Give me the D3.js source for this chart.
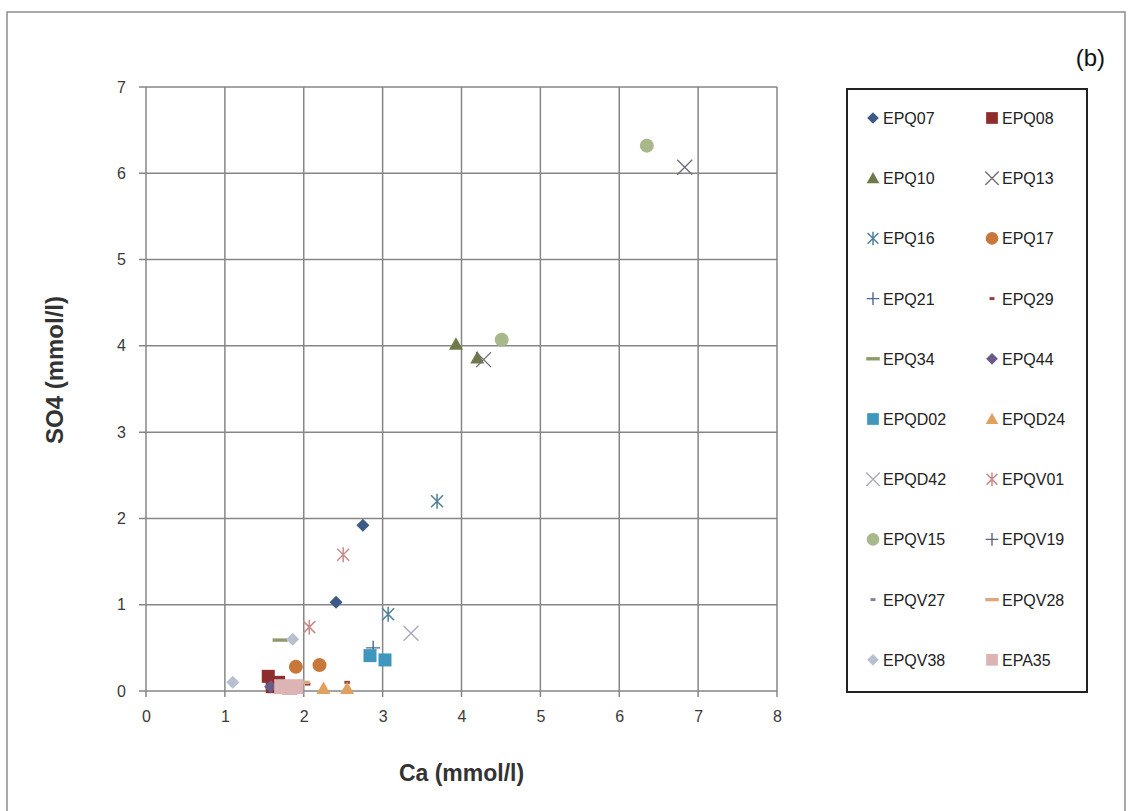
<!DOCTYPE html>
<html><head><meta charset="utf-8">
<script src="https://cdn.jsdelivr.net/npm/d3@7"></script>
<style>body{margin:0;background:#fff}svg{display:block}</style>
</head><body>
<svg id="c" width="1132" height="811"></svg>
<script>
// ---- data ----
const seriesNames = ["EPQ07","EPQ08","EPQ10","EPQ13","EPQ16","EPQ17","EPQ21","EPQ29","EPQ34","EPQ44",
  "EPQD02","EPQD24","EPQD42","EPQV01","EPQV15","EPQV19","EPQV27","EPQV28","EPQV38","EPA35"];
const caValues = [
  [2.75, 2.41],        // EPQ07
  [1.55, 1.68, 1.6],   // EPQ08
  [3.93, 4.2],         // EPQ10
  [6.83, 4.28],        // EPQ13
  [3.69, 3.07],        // EPQ16
  [1.9, 2.2],          // EPQ17
  [2.88],              // EPQ21
  [2.05, 2.55],        // EPQ29
  [1.7],               // EPQ34
  [1.58],              // EPQ44
  [2.84, 3.03],        // EPQD02
  [2.25, 2.55],        // EPQD24
  [3.36],              // EPQD42
  [2.5, 2.07],         // EPQV01
  [6.35, 4.51],        // EPQV15
  [1.7],               // EPQV19
  [1.75],              // EPQV27
  [1.98],              // EPQV28
  [1.1, 1.86],         // EPQV38
  [1.72, 1.82, 1.9]    // EPA35
];
const so4Values = [
  [1.92, 1.03],
  [0.17, 0.1, 0.05],
  [4.02, 3.86],
  [6.07, 3.84],
  [2.2, 0.89],
  [0.28, 0.3],
  [0.5],
  [0.08, 0.1],
  [0.59],
  [0.05],
  [0.41, 0.36],
  [0.03, 0.03],
  [0.67],
  [1.58, 0.74],
  [6.32, 4.07],
  [0.06],
  [0.08],
  [0.1],
  [0.1, 0.6],
  [0.05, 0.04, 0.05]
];
const xTicks = [0,1,2,3,4,5,6,7,8];
const yTicks = [0,1,2,3,4,5,6,7];

// ---- style ----
const shapes = ["diamond","square","triangle","x","asterisk","circle","plus","shortdash","longdash","diamond",
  "square","triangle","x","asterisk","circle","plus","shortdash","longdash","diamond","square"];
const colors = ["#3c5a85","#8e2c2e","#6f7a4a","#6b6b78","#4f8098","#c8783a","#4a6890","#9a3f3c","#8d9a6e","#6a5a8a",
  "#3f97bf","#e0a060","#a8a8b8","#c98a88","#a8b88a","#5a6478","#8a8098","#d8a880","#b8c0d0","#dcb4b4"];

const svg = d3.select("#c");
svg.append("rect").attr("x",7).attr("y",12).attr("width",1118).attr("height",820)
  .attr("fill","none").attr("stroke","#8c8c8c").attr("stroke-width",1.5);

const x = d3.scaleLinear().domain([0,8]).range([146,777]);
const y = d3.scaleLinear().domain([0,7]).range([691,87]);
const gridCol = "#868686";

// grid
const g = svg.append("g");
g.selectAll(".vg").data(xTicks).join("line")
  .attr("x1",d=>x(d)).attr("x2",d=>x(d)).attr("y1",y(7)).attr("y2",y(0)+6)
  .attr("stroke",gridCol).attr("stroke-width",1.5);
g.selectAll(".hg").data(yTicks).join("line")
  .attr("y1",d=>y(d)).attr("y2",d=>y(d)).attr("x1",x(0)-7).attr("x2",x(8))
  .attr("stroke",gridCol).attr("stroke-width",1.5);

// axes labels
const xAxis = d3.axisBottom(x).tickValues(xTicks).tickFormat(d3.format("d")).tickSize(0).tickPadding(20);
const yAxis = d3.axisLeft(y).tickValues(yTicks).tickFormat(d3.format("d")).tickSize(0).tickPadding(20);
const gx = svg.append("g").attr("transform",`translate(0,${y(0)})`).call(xAxis);
const gy = svg.append("g").attr("transform",`translate(${x(0)},0)`).call(yAxis);
[gx,gy].forEach(a=>{
  a.select(".domain").remove();
  a.selectAll("text").attr("font-family","Liberation Sans, Arial, sans-serif")
    .attr("font-size",16).attr("fill","#3a3a3a");
});

// titles
svg.append("text").attr("x",(x(0)+x(8))/2).attr("y",781).attr("text-anchor","middle")
  .attr("font-family","Liberation Sans, Arial, sans-serif").attr("font-weight","bold")
  .attr("font-size",23).attr("fill","#333").text("Ca (mmol/l)");
svg.append("text").attr("transform","translate(63,370) rotate(-90)").attr("text-anchor","middle")
  .attr("font-family","Liberation Sans, Arial, sans-serif").attr("font-weight","bold")
  .attr("font-size",24).attr("fill","#333").text("SO4 (mmol/l)");
svg.append("text").attr("x",1105).attr("y",66).attr("text-anchor","end")
  .attr("font-family","Liberation Sans, Arial, sans-serif")
  .attr("font-size",24).attr("fill","#111").text("(b)");

// marker drawing
function drawMarker(sel, shape, color, s) {
  const h = s/2;
  if (shape==="diamond") sel.append("path").attr("d",`M0,${-h}L${h},0L0,${h}L${-h},0Z`).attr("fill",color);
  else if (shape==="square") sel.append("rect").attr("x",-h).attr("y",-h).attr("width",s).attr("height",s).attr("fill",color);
  else if (shape==="triangle") sel.append("path").attr("d",`M0,${-h}L${h},${h*0.8}L${-h},${h*0.8}Z`).attr("fill",color);
  else if (shape==="circle") sel.append("circle").attr("r",h).attr("fill",color);
  else if (shape==="x") sel.append("path").attr("d",`M${-h},${-h}L${h},${h}M${-h},${h}L${h},${-h}`).attr("stroke",color).attr("stroke-width",1.3).attr("fill","none");
  else if (shape==="asterisk") sel.append("path").attr("d",`M0,${-h}L0,${h}M${-h*0.8},${-h*0.8}L${h*0.8},${h*0.8}M${-h*0.8},${h*0.8}L${h*0.8},${-h*0.8}`).attr("stroke",color).attr("stroke-width",1.5).attr("fill","none");
  else if (shape==="plus") sel.append("path").attr("d",`M0,${-h}L0,${h}M${-h},0L${h},0`).attr("stroke",color).attr("stroke-width",1.4).attr("fill","none");
  else if (shape==="shortdash") sel.append("rect").attr("x",-h*0.5).attr("y",-1.5).attr("width",h).attr("height",3).attr("fill",color);
  else if (shape==="longdash") sel.append("rect").attr("x",-h).attr("y",-1.7).attr("width",s).attr("height",3.4).attr("fill",color);
}
const markerSize = {diamond:13,square:13,triangle:14,circle:14,x:15,asterisk:15,plus:14,shortdash:11,longdash:15};

// points
const pts = svg.append("g");
seriesNames.forEach((name,i)=>{
  caValues[i].forEach((cv,j)=>{
    const gp = pts.append("g").attr("transform",`translate(${x(cv)},${y(so4Values[i][j])})`);
    drawMarker(gp, shapes[i], colors[i], markerSize[shapes[i]]*(name==="EPA35"?1.15:1));
  });
});

// legend
svg.append("rect").attr("x",847).attr("y",89).attr("width",240).attr("height",603)
  .attr("fill","#fff").attr("stroke","#222").attr("stroke-width",2);
const lg = svg.append("g");
seriesNames.forEach((name,i)=>{
  const col = i%2, row = Math.floor(i/2);
  const ly = 118 + row*60.2;
  const mx = col===0 ? 873 : 992;
  const gm = lg.append("g").attr("transform",`translate(${mx},${ly})`);
  drawMarker(gm, shapes[i], colors[i], markerSize[shapes[i]]*0.9);
  lg.append("text").attr("x", col===0 ? 883 : 1002).attr("y", ly+6)
    .attr("font-family","Liberation Sans, Arial, sans-serif").attr("font-size",16)
    .attr("fill","#222").text(name);
});
</script>
</body></html>
